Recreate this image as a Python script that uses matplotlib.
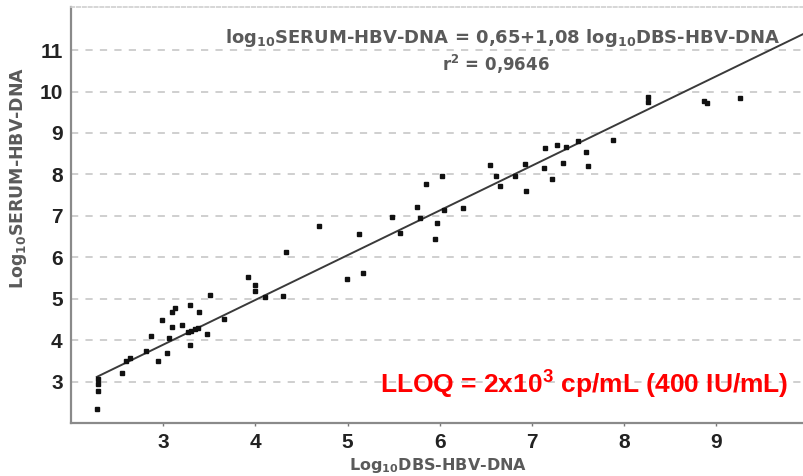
import matplotlib
matplotlib.use("Agg")
import matplotlib.pyplot as plt
import numpy as np

plt.rcParams["mathtext.fontset"] = "custom"
plt.rcParams["mathtext.rm"] = "DejaVu Sans:bold"
plt.rcParams["mathtext.bf"] = "Liberation Sans:bold"

# log10 HBV-DNA measured on dried blood spots (x) and in serum (y)
dbs_log = [2.28, 2.29, 2.29, 2.29, 2.55, 2.64, 2.60, 2.81, 2.94, 3.04,
           2.87, 3.06, 2.99, 3.10, 3.13, 3.10, 3.20, 3.29, 3.39, 3.30,
           3.34, 3.27, 3.38, 3.29, 3.48, 3.51, 3.66, 3.92, 4.00, 4.00,
           4.10, 4.30, 4.33, 4.69, 4.99, 5.17, 5.12, 5.48, 5.57, 5.75,
           5.79, 5.95, 5.97, 6.05, 6.25, 5.85, 6.02, 6.54, 6.61, 6.65,
           6.82, 6.92, 6.93, 7.14, 7.13, 7.22, 7.27, 7.34, 7.37, 7.50,
           7.59, 7.61, 7.88, 8.26, 8.26, 8.87, 8.90, 9.26]
serum_log = [2.33, 3.05, 2.93, 2.78, 3.20, 3.57, 3.50, 3.73, 3.50, 3.68,
             4.09, 4.05, 4.49, 4.69, 4.77, 4.31, 4.36, 4.85, 4.67, 4.23,
             4.26, 4.20, 4.30, 3.89, 4.15, 5.10, 4.51, 5.52, 5.32, 5.18,
             5.05, 5.07, 6.12, 6.75, 5.48, 5.61, 6.55, 6.97, 6.58, 7.21,
             6.95, 6.45, 6.82, 7.14, 7.19, 7.77, 7.95, 8.23, 7.95, 7.72,
             7.95, 8.26, 7.60, 8.63, 8.15, 7.88, 8.72, 8.28, 8.65, 8.80,
             8.55, 8.20, 8.83, 9.86, 9.75, 9.77, 9.73, 9.84]

# Linear regression reported on the plot
intercept = 0.65
slope = 1.08
r_squared = "0,9646"

x_ticks = [3, 4, 5, 6, 7, 8, 9]
y_ticks = [3, 4, 5, 6, 7, 8, 9, 10, 11]

fig = plt.figure(figsize=(8.04, 4.76), dpi=100)
ax = fig.add_axes([71 / 804, 1 - 423 / 476, 732 / 804, 416 / 476])

ax.set_xlim(2.0, 9.94)
ax.set_ylim(2.0, 12.04)

# horizontal dashed grid
for yv in y_ticks:
    ax.axhline(yv, color="#cccccc", lw=1.3, ls=(0, (4, 4)), zorder=0)

# regression line
xl = np.array([min(dbs_log), 10.2])
ax.plot(xl, intercept + slope * xl, color="#3a3a3a", lw=1.4, zorder=2)

# data points
ax.plot(dbs_log, serum_log, ls="none", marker="s", ms=3.4,
        color="#111111", mec="#111111", zorder=3)

ax.set_xticks(x_ticks)
ax.set_yticks(y_ticks)
ax.set_xticklabels([str(v) for v in x_ticks])
ax.set_yticklabels([str(v) for v in y_ticks])
for lab in ax.get_xticklabels() + ax.get_yticklabels():
    lab.set_fontfamily("Liberation Sans")
    lab.set_fontweight("bold")
    lab.set_fontsize(15)
    lab.set_color("#222222")
ax.tick_params(axis="y", length=0, pad=6)
ax.tick_params(axis="x", length=2, width=1, color="#777777", pad=5)

for side in ["left", "bottom"]:
    ax.spines[side].set_color("#8a8a8a")
    ax.spines[side].set_linewidth(1.6)
ax.spines["right"].set_visible(False)
ax.spines["top"].set_color("#d0d0d0")
ax.spines["top"].set_linestyle((0, (2, 1.5)))
ax.spines["top"].set_linewidth(1.2)

label_kw = dict(family="DejaVu Sans", weight="bold", color="#5a5a5a")
ax.set_xlabel(r"Log$_{10}$DBS-HBV-DNA", fontsize=11.5, **label_kw)
ax.set_ylabel(r"Log$_{10}$SERUM-HBV-DNA", fontsize=12.5, **label_kw)
ax.xaxis.set_label_coords(0.502, -0.08)
ax.yaxis.set_label_coords(-0.058, 0.589)

ax.text(0.211, 0.925,
        r"log$_{10}$SERUM-HBV-DNA = 0,65+1,08 log$_{10}$DBS-HBV-DNA",
        transform=ax.transAxes, fontsize=13, ha="left", va="center",
        **label_kw)
ax.text(0.58, 0.862, r"r$^{2}$ = " + r_squared,
        transform=ax.transAxes, fontsize=12, ha="center", va="center",
        **label_kw)

ax.text(0.98, 0.095, r"LLOQ = 2x10$^{\mathbf{3}}$ cp/mL (400 IU/mL)",
        transform=ax.transAxes, ha="right", va="center",
        fontsize=19, fontweight="bold", family="Liberation Sans",
        color="#ff0000")

fig.savefig("out.png", dpi=100)
